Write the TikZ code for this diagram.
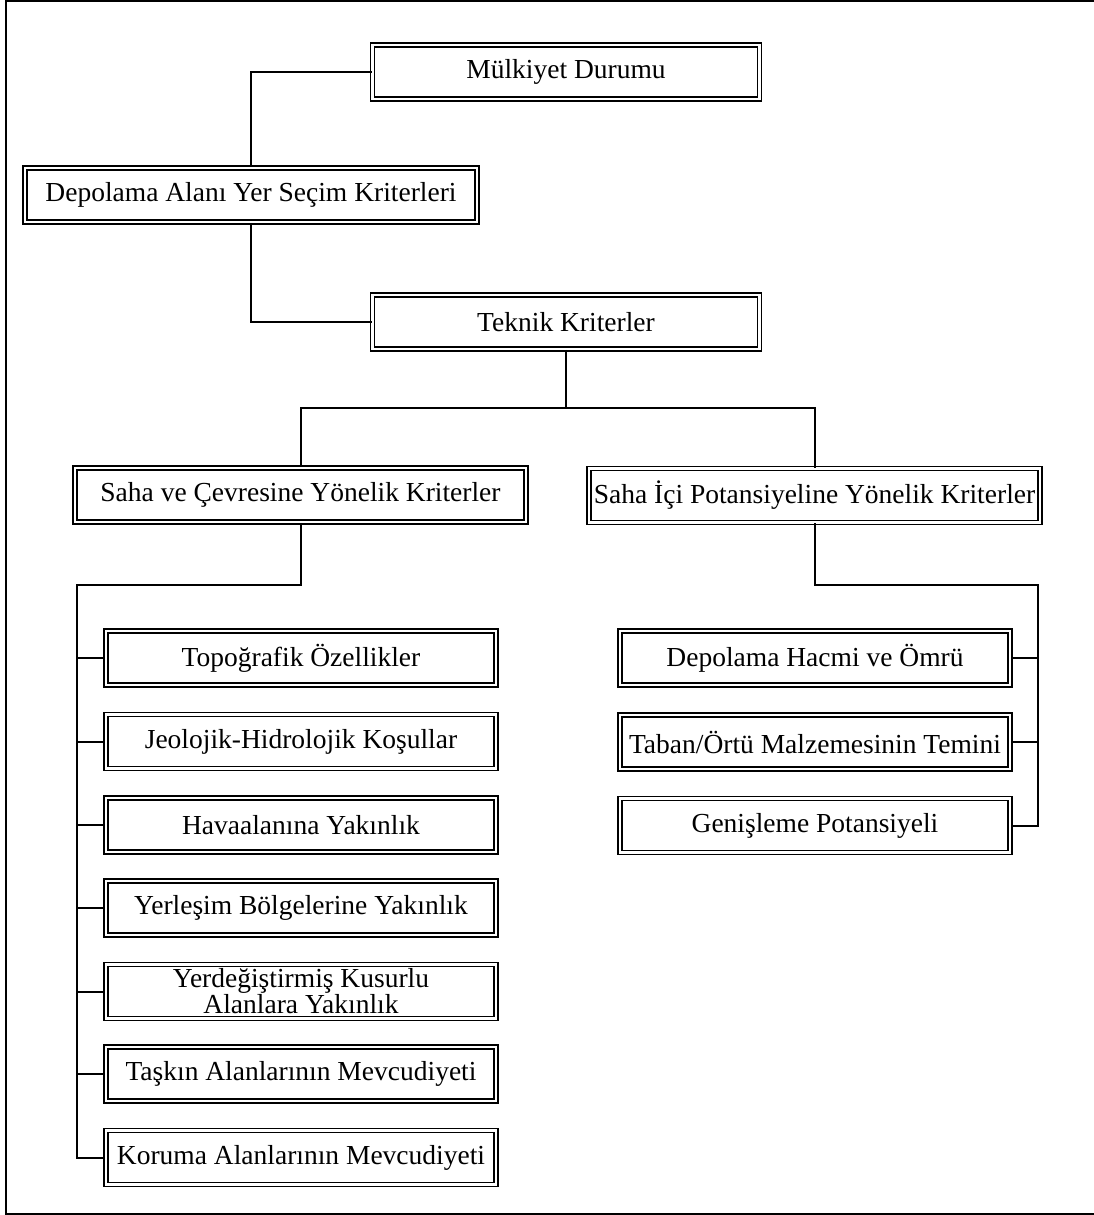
\documentclass[tikz,border=0pt]{standalone}
\usepackage{fontspec}
\setmainfont{Liberation Serif}
\begin{document}
\begin{tikzpicture}[x=1pt,y=-1pt,
  box/.style={draw, double, line width=1.6pt, double distance=2.4pt,
    inner sep=0pt, minimum height=54pt, align=center,
    font=\fontsize{27.5}{21.5}\selectfont},
  link/.style={line width=2pt}]
\useasboundingbox (0,0) rectangle (1094,1215);
% outer frame (its right side runs past the page edge)
\draw[line width=2pt] (1120,1.5) -- (6,1.5) -- (6,1213.5) -- (1120,1213.5);

% top levels
\node[box, minimum width=387pt] (m) at (566,72) {Mülkiyet Durumu};
\node[box, minimum width=452pt] (d) at (251,195) {Depolama Alanı Yer Seçim Kriterleri};
\node[box, minimum width=387pt] (t) at (566,322) {Teknik Kriterler};
\node[box, minimum width=451pt] (s1) at (300.5,495) {Saha ve Çevresine Yönelik Kriterler};
\node[box, minimum width=451pt] (s2) at (814.5,495.5) {Saha İçi Potansiyeline Yönelik Kriterler};

% site and surroundings criteria
\node[box, minimum width=390pt] (c1) at (301,658) {Topoğrafik Özellikler};
\node[box, minimum width=390pt] (c2) at (301,741.5) {Jeolojik-Hidrolojik Koşullar};
\node[box, minimum width=390pt] (c3) at (301,825) {Havaalanına Yakınlık};
\node[box, minimum width=390pt] (c4) at (301,908) {Yerleşim Bölgelerine Yakınlık};
\node[box, minimum width=390pt] (c5) at (301,991.5) {Yerdeğiştirmiş Kusurlu\\Alanlara Yakınlık};
\node[box, minimum width=390pt] (c6) at (301,1074) {Taşkın Alanlarının Mevcudiyeti};
\node[box, minimum width=390pt] (c7) at (301,1157.5) {Koruma Alanlarının Mevcudiyeti};

% on-site potential criteria
\node[box, minimum width=390pt] (r1) at (815,658) {Depolama Hacmi ve Ömrü};
\node[box, minimum width=390pt] (r2) at (815,742) {Taban/Örtü Malzemesinin Temini};
\node[box, minimum width=390pt] (r3) at (815,825.5) {Genişleme Potansiyeli};

% connectors
\draw[link] (m.west) -| (d.north);
\draw[link] (d.south) |- (t.west);
\coordinate (tb) at (566,408);
\draw[link] (t.south) -- (tb);
\draw[link] (tb) -| (s1.north);
\draw[link] (tb) -| (s2.north);

\coordinate (lb) at (77,585);
\draw[link] (s1.south) |- (lb) |- (c7.west);
\foreach \n in {c1,c2,c3,c4,c5,c6}
  \draw[link] (lb |- \n.west) -- (\n.west);

\coordinate (rb) at (1038,585);
\draw[link] (s2.south) |- (rb) |- (r3.east);
\foreach \n in {r1,r2}
  \draw[link] (rb |- \n.east) -- (\n.east);
\end{tikzpicture}
\end{document}
